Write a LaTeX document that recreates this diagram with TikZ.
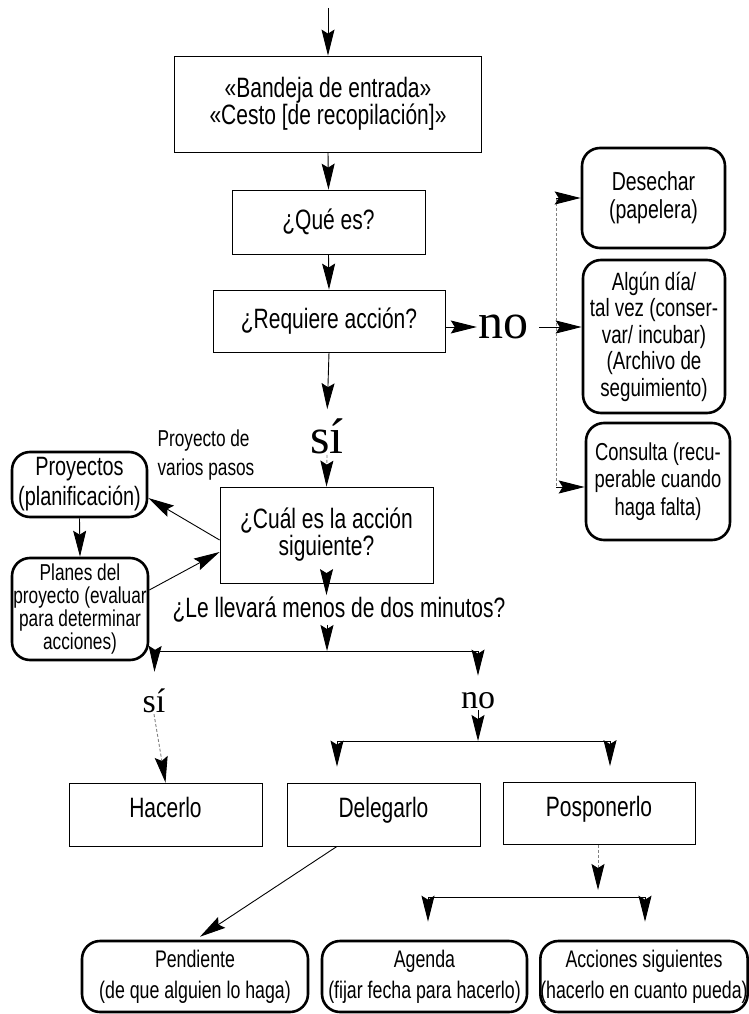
\documentclass[tikz,border=0pt]{standalone}
\usepackage{fontspec}
\setmainfont{Liberation Sans}[FakeStretch=0.75]
\newfontfamily\narrowsans{Liberation Sans}[FakeStretch=0.74]
\newfontfamily\answerfont{Liberation Serif}
\usetikzlibrary{arrows.meta}

\newcommand{\boxtext}{\fontsize{28}{27}\selectfont}
\newcommand{\smalltext}{\fontsize{25}{26.5}\selectfont}
\newcommand{\notetext}{\fontsize{23}{22.7}\selectfont}
\newcommand{\bottomtext}{\narrowsans\fontsize{24}{31}\selectfont}
\newcommand{\bigword}{\answerfont\fontsize{50}{50}\selectfont}
\newcommand{\midword}{\answerfont\fontsize{34}{34}\selectfont}

\begin{document}
\begin{tikzpicture}[x=1pt,y=-1pt,
  plainbox/.style={draw, line width=0.8pt, inner sep=0pt, align=center, font=\boxtext},
  roundbox/.style={draw, line width=2.6pt, rounded corners=18pt, inner sep=0pt, align=center, font=\smalltext},
  arr/.style={-{Stealth[length=26pt,width=13pt,inset=4pt,color=black]}, line width=0.9pt},
  faint/.style={densely dashed, gray, line width=0.6pt},
  word/.style={inner sep=1pt}]
  \useasboundingbox (0,0) rectangle (748,1014);

  \coordinate (entrada)	at (328,8);
  \node[plainbox] (bandeja)	at (328,104)	[minimum width=307pt, minimum height=96pt]	{«Bandeja de entrada»\\«Cesto [de recopilación]»};
  \node[plainbox] (que-es)	at (328.5,222)	[minimum width=193pt, minimum height=64pt]	{¿Qué es?};
  \node[plainbox] (requiere)	at (329,321)	[minimum width=232pt, minimum height=62pt]	{¿Requiere acción?};

  \node[word, font=\bigword] (no-accion)	at (503,327)	{no};
  \node[roundbox] (desechar)	at (653.5,198)	[minimum width=143pt, minimum height=100pt, font=\fontsize{26}{28}\selectfont]	{Desechar\\(papelera)};
  \node[roundbox] (algun-dia)	at (654,336.5)	[minimum width=142pt, minimum height=153pt]	{Algún día/\\tal vez (conser-\\var/ incubar)\\(Archivo de\\seguimiento)};
  \node[roundbox] (consulta)	at (658,481.5)	[minimum width=144pt, minimum height=117pt, font=\fontsize{24.5}{27.5}\selectfont]	{Consulta (recu-\\perable cuando\\haga falta)};
  \coordinate (no-arriba)	at (556,198);
  \coordinate (no-abajo)	at (556,487);

  \node[word, font=\bigword] (si-accion)	at (327,436)	{sí};
  \node[plainbox] (cual)	at (326.5,535)	[minimum width=213pt, minimum height=96pt]	{¿Cuál es la acción\\siguiente?};

  \node[anchor=west, align=left, font=\fontsize{23}{29}\selectfont] (varios-pasos)	at (154,455)	{Proyecto de\\varios pasos};
  \node[roundbox] (proyectos)	at (79.5,484.5)	[minimum width=135pt, minimum height=65pt, font=\fontsize{26.5}{30}\selectfont]	{Proyectos\\(planificación)};
  \node[roundbox] (planes)	at (80,609)	[minimum width=136pt, minimum height=102pt, font=\notetext]	{Planes del\\proyecto (evaluar\\para determinar\\acciones)};

  \node[inner sep=2pt, font=\boxtext] (minutos)	at (339,610)	{¿Le llevará menos de dos minutos?};
  \coordinate (dos-min)	at (327,651);
  \coordinate (dos-min-si)	at (155,651);
  \coordinate (dos-min-no)	at (478,651);

  \node[word, font=\midword] (si-min)	at (154,701)	{sí};
  \node[word, font=\midword] (no-min)	at (478,701)	{no};
  \coordinate (reparto)	at (478,741);
  \coordinate (reparto-del)	at (337,741);
  \coordinate (reparto-pos)	at (610,741);

  \node[plainbox] (hacerlo)	at (165.5,814.5)	[minimum width=193pt, minimum height=63pt, text depth=14pt]	{Hacerlo};
  \node[plainbox] (delegarlo)	at (383.5,814.5)	[minimum width=193pt, minimum height=63pt, text depth=14pt]	{Delegarlo};
  \node[plainbox] (posponerlo)	at (599,813.5)	[minimum width=192pt, minimum height=62pt, text depth=14pt]	{Posponerlo};

  \coordinate (plazo)	at (598,897);
  \coordinate (plazo-agenda)	at (428,897);
  \coordinate (plazo-acciones)	at (645,897);

  \node[roundbox] (pendiente)	at (195,976.5)	[minimum width=226pt, minimum height=71pt, font=\bottomtext]	{Pendiente\\(de que alguien lo haga)};
  \node[roundbox] (agenda)	at (424.5,976.5)	[minimum width=205pt, minimum height=71pt, font=\bottomtext]	{Agenda\\(fijar fecha para hacerlo)};
  \node[roundbox] (acciones)	at (644,976.5)	[minimum width=204pt, minimum height=71pt, font=\bottomtext]	{Acciones siguientes\\(hacerlo en cuanto pueda)};

  \draw[arr] (entrada) -- (bandeja.north);
  \draw[arr] (bandeja.south) -- (que-es.north);
  \draw[arr] (que-es.south) -- (requiere.north);
  \draw[arr, shorten >=8pt] (requiere.south) -- (si-accion.north);
  \draw[faint, arr] (si-accion.south) -- (cual.north);

  \draw[arr] (requiere.east |- no-accion) -- (no-accion.west);
  \draw[arr] (no-accion.east) ++(10,0) -- (no-accion.east -| algun-dia.west);
  \draw[faint] (no-arriba) -- (no-abajo);
  \draw[arr] (no-arriba) -- (desechar.west);
  \draw[arr] (no-abajo) -- (no-abajo -| consulta.west);

  \draw[arr] ([yshift=-5pt]cual.west) -- ([yshift=-13.5pt]proyectos.east);
  \draw[arr] (proyectos.south) -- (planes.north);
  \draw[arr] ([yshift=19pt]planes.east) -- ([yshift=-17pt]cual.west);

  \draw[arr] (cual.south) -- (cual.south |- minutos.north);
  \draw[arr] (minutos.south -| dos-min) -- (dos-min);
  \draw (dos-min-si) -- (dos-min-no);
  \draw[arr, shorten >=16pt] (dos-min-si) -- (si-min.north);
  \draw[arr, shorten >=16pt] (dos-min-no) -- (no-min.north);

  \draw[faint, arr] (si-min.south) -- (hacerlo.north);
  \draw[arr] (no-min.south) -- (reparto);
  \draw (reparto-del) -- (reparto-pos);
  \draw[arr, shorten >=16pt] (reparto-del) -- (reparto-del |- delegarlo.north);
  \draw[arr, shorten >=16pt] (reparto-pos) -- (reparto-pos |- posponerlo.north);

  \draw[arr] ([xshift=-46.5pt]delegarlo.south) -- ([xshift=5pt,yshift=3pt]pendiente.north);
  \draw[faint, arr, shorten >=7pt] (posponerlo.south -| plazo) -- (plazo);
  \draw (plazo-agenda) -- (plazo-acciones);
  \draw[arr, shorten >=18pt] (plazo-agenda) -- (plazo-agenda |- agenda.north);
  \draw[arr, shorten >=18pt] (plazo-acciones) -- (plazo-acciones |- acciones.north);
\end{tikzpicture}
\end{document}
